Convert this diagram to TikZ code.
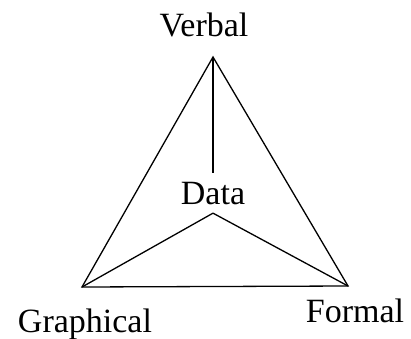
\documentclass[tikz,border=0pt]{standalone}
\usepackage{fontspec}
\setmainfont{Liberation Serif}
\usepackage{tikz}
\usetikzlibrary{positioning}

\begin{document}
\begin{tikzpicture}[x=1pt, y=1pt, line width=1.3pt,
    lbl/.style={font=\fontsize{34}{40}\selectfont, inner sep=0pt, anchor=base}]
    \useasboundingbox (0,0) rectangle (411,338);

    % Ecken des Dreiecks
    \coordinate (verb) at (213,281);
    \coordinate (graph) at (82,51);
    \coordinate (form) at (348,52);

    % Beschriftungen
    \node[lbl] (verbal) at (204,301) {Verbal};
    \node[lbl] (graphical) at (85,6) {Graphical};
    \node[lbl] (formal) at (355,16) {Formal};
    \node[lbl, anchor=center, text height=23pt, text depth=0pt,
          inner ysep=8pt] (data) at (213,145) {Data};

    % Dreieck
    \draw (verb) -- (graph) -- (form) -- cycle;

    % Speichen zur Mitte
    \draw (verb) -- (data.north);
    \draw (data.south) -- (graph);
    \draw (data.south) -- (form);
\end{tikzpicture}
\end{document}
